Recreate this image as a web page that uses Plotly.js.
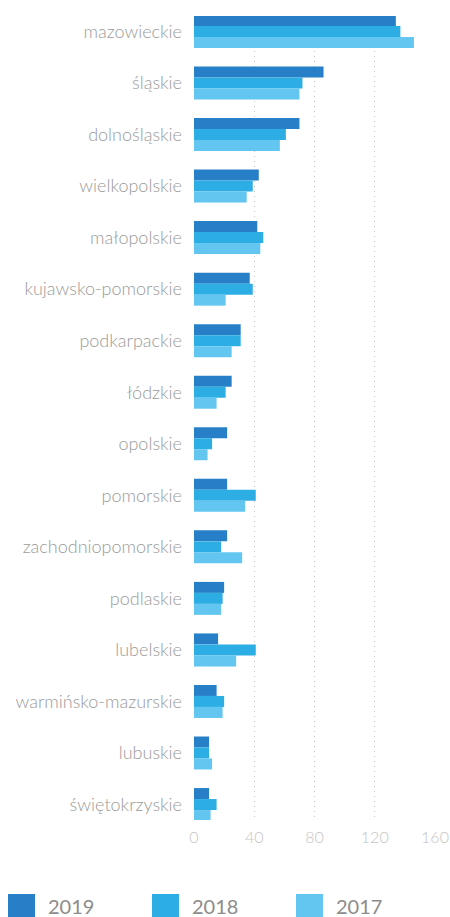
<!DOCTYPE html>
<html>
<head>
<meta charset="utf-8">
<script src="https://cdn.plot.ly/plotly-3.0.1.min.js"></script>
<style>
  html, body { margin: 0; padding: 0; background: #fff; }
  #chart { width: 450px; height: 917px; }
</style>
</head>
<body>
<div id="chart"></div>
<script>
let regions = ["mazowieckie", "śląskie", "dolnośląskie", "wielkopolskie", "małopolskie",
  "kujawsko-pomorskie", "podkarpackie", "łódzkie", "opolskie", "pomorskie",
  "zachodniopomorskie", "podlaskie", "lubelskie", "warmińsko-mazurskie", "lubuskie",
  "świętokrzyskie"];
let v2019 = [134, 86, 70, 43, 42, 37, 31, 25, 22, 22, 22, 20, 16, 15, 10, 10];
let v2018 = [137, 72, 61, 39, 46, 39, 31, 21, 12, 41, 18, 19, 41, 20, 10, 15];
let v2017 = [146, 70, 57, 35, 44, 21, 25, 15, 9, 34, 32, 18, 28, 19, 12, 11];
let years = ["2019", "2018", "2017"];
let colors = ["#2780c7", "#2caee5", "#63c6f0"];
let xTicks = [0, 40, 80, 120, 160];

const W = 450, H = 917;
const mL = 194, mR = 15, mT = 16, mB = 97;
const pw = W - mL - mR, ph = H - mT - mB;

// pixel -> paper helpers for the hand made legend
function px(x){ return (x - mL) / pw; }
function py(y){ return (H - mB - y) / ph; }

let series = [v2019, v2018, v2017];
let traces = series.map(function(vals, i){
  return {
    type: 'bar',
    orientation: 'h',
    name: years[i],
    x: vals,
    y: regions,
    marker: {color: colors[i]},
    hoverinfo: 'x+y'
  };
});

let shapes = [];
let annotations = [];
for (let i = 0; i < years.length; i++){
  let x0 = 8 + 144*i;
  shapes.push({
    type: 'rect', xref: 'paper', yref: 'paper',
    x0: px(x0), x1: px(x0 + 27), y0: py(894), y1: py(921),
    fillcolor: colors[i], line: {width: 0}
  });
  annotations.push({
    xref: 'paper', yref: 'paper', x: px(x0 + 38), y: py(906),
    xanchor: 'left', yanchor: 'middle', showarrow: false,
    text: years[i],
    font: {family: 'Lato', size: 20, color: '#8c8c8c'}
  });
}

let layout = {
  width: W, height: H,
  margin: {l: mL, r: mR, t: mT, b: mB, pad: 0},
  paper_bgcolor: '#fff', plot_bgcolor: '#fff',
  barmode: 'group',
  bargap: 0.36,
  bargroupgap: 0,
  showlegend: false,
  font: {family: 'Lato', color: '#999'},
  xaxis: {
    range: [0, 160],
    tickvals: xTicks,
    ticktext: xTicks.map(String),
    showgrid: true,
    gridcolor: '#c4c4c4',
    griddash: '1px,4px',
    gridwidth: 1,
    zeroline: false,
    showline: false,
    ticks: '',
    ticklabelstandoff: 6,
    tickfont: {family: 'Lato', size: 16, weight: 300, color: '#c4c4c4'}
  },
  yaxis: {
    type: 'category',
    range: [15.3, -0.3],
    showgrid: false,
    zeroline: false,
    showline: false,
    ticks: '',
    ticklabelstandoff: 11,
    tickfont: {family: 'Lato', size: 18, weight: 300, color: '#9a9a9a'}
  },
  shapes: shapes,
  annotations: annotations
};

Plotly.newPlot('chart', traces, layout, {displayModeBar: false, staticPlot: true});
</script>
</body>
</html>
